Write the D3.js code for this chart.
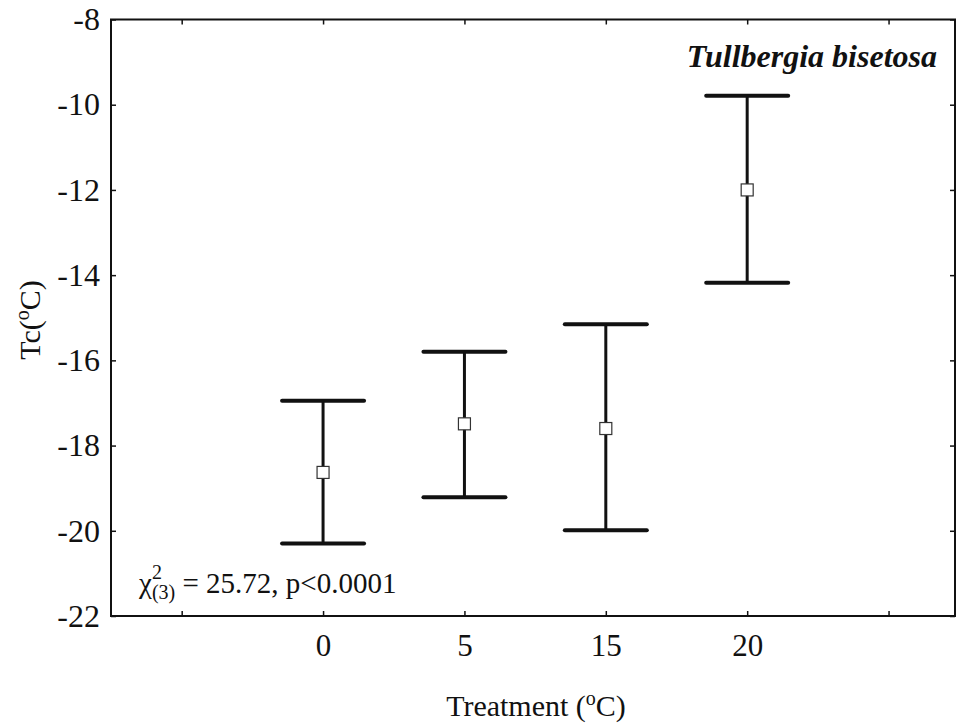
<!DOCTYPE html>
<html><head><meta charset="utf-8">
<script src="https://cdn.jsdelivr.net/npm/d3@7"></script>
<style>body{margin:0;background:#fff}svg{display:block}</style>
</head><body>
<script>
const categories = ["0", "5", "15", "20"];
const means = [-18.63, -17.49, -17.6, -12.0];
const upper = [-16.95, -15.8, -15.15, -9.79];
const lower = [-20.3, -19.21, -19.99, -14.18];
const yTicks = [-22, -20, -18, -16, -14, -12, -10, -8];
const xTickIdx = [-1, 0, 1, 2, 3, 4];

const W = 959, H = 728;
const m = {left: 111, top: 19.5, right: 4, bottom: 112};
const iw = W - m.left - m.right, ih = H - m.top - m.bottom;
const font = "'Liberation Serif', 'Times New Roman', serif";

const svg = d3.select("body").append("svg").attr("width", W).attr("height", H)
  .style("font-family", font);
const g = svg.append("g").attr("transform", `translate(${m.left},${m.top})`);

const x = d3.scaleLinear().domain([-1.5, 4.47]).range([0, iw]);
const y = d3.scaleLinear().domain([-22, -8]).range([ih, 0]);

// frame
g.append("rect").attr("width", iw).attr("height", ih).attr("fill", "none")
  .attr("stroke", "#111").attr("stroke-width", 2);

const fmt = d => String(d);
const yAx = g.append("g").call(d3.axisLeft(y).tickValues(yTicks).tickSize(-5).tickPadding(11).tickFormat(fmt));
yAx.attr("font-size", null).attr("font-family", null);
yAx.select(".domain").remove();
yAx.selectAll("text").style("font-size", "32px").attr("fill", "#111").style("font-family", font);
yAx.selectAll("line").attr("stroke", "#111").attr("stroke-width", 1.5);

const yAxR = g.append("g").attr("transform", `translate(${iw},0)`)
  .call(d3.axisRight(y).tickValues(yTicks).tickSize(-5).tickFormat(""));
yAxR.select(".domain").remove();
yAxR.selectAll("line").attr("stroke", "#111").attr("stroke-width", 1.5);

const xAx = g.append("g").attr("transform", `translate(0,${ih})`)
  .call(d3.axisBottom(x).tickValues(xTickIdx).tickSize(-5).tickPadding(18)
    .tickFormat(i => categories[i] !== undefined ? categories[i] : ""));
xAx.attr("font-size", null).attr("font-family", null);
xAx.select(".domain").remove();
xAx.selectAll("text").style("font-size", "31px").attr("fill", "#111").style("font-family", font);
xAx.selectAll("line").attr("stroke", "#111").attr("stroke-width", 1.5);

const xAxT = g.append("g").call(d3.axisTop(x).tickValues(xTickIdx).tickSize(-5).tickFormat(""));
xAxT.select(".domain").remove();
xAxT.selectAll("line").attr("stroke", "#111").attr("stroke-width", 1.5);

// error bars
const capHalf = 41;
const bars = g.selectAll(".eb").data(categories.map((c, i) => ({i, m: means[i], u: upper[i], l: lower[i]})))
  .join("g").attr("class", "eb");
bars.append("line").attr("x1", d => x(d.i)).attr("x2", d => x(d.i))
  .attr("y1", d => y(d.u)).attr("y2", d => y(d.l)).attr("stroke", "#111").attr("stroke-width", 3);
bars.append("line").attr("x1", d => x(d.i) - capHalf).attr("x2", d => x(d.i) + capHalf)
  .attr("y1", d => y(d.u)).attr("y2", d => y(d.u)).attr("stroke", "#111").attr("stroke-width", 4).attr("stroke-linecap", "round");
bars.append("line").attr("x1", d => x(d.i) - capHalf).attr("x2", d => x(d.i) + capHalf)
  .attr("y1", d => y(d.l)).attr("y2", d => y(d.l)).attr("stroke", "#111").attr("stroke-width", 4).attr("stroke-linecap", "round");
bars.append("rect").attr("x", d => x(d.i) - 6).attr("y", d => y(d.m) - 6)
  .attr("width", 12).attr("height", 12).attr("fill", "#fff").attr("stroke", "#333").attr("stroke-width", 1.2);

// species label
svg.append("text").attr("x", 937).attr("y", 67).attr("text-anchor", "end")
  .style("font-size", "32px").attr("font-weight", "bold").attr("font-style", "italic")
  .attr("fill", "#111").text("Tullbergia bisetosa");

// chi-square text
const chi = svg.append("text").attr("x", 139).attr("y", 593).style("font-size", "29px").attr("fill", "#111");
chi.append("tspan").text("χ");
chi.append("tspan").attr("dy", -14).style("font-size", "20px").text("2");
chi.append("tspan").attr("dy", 20).attr("dx", -10).style("font-size", "20px").text("(3)");
chi.append("tspan").attr("dy", -6).text(" = 25.72,  p<0.0001");

// y title
const yt = svg.append("text").attr("transform", "translate(40,320) rotate(-90)")
  .attr("text-anchor", "middle").style("font-size", "30px").attr("fill", "#111");
yt.append("tspan").text("Tc(");
yt.append("tspan").attr("dy", -11).style("font-size", "20px").text("o");
yt.append("tspan").attr("dy", 11).text("C)");

// x title
const xt = svg.append("text").attr("x", 536).attr("y", 716).attr("text-anchor", "middle")
  .style("font-size", "30px").attr("fill", "#111");
xt.append("tspan").text("Treatment (");
xt.append("tspan").attr("dy", -11).style("font-size", "20px").text("o");
xt.append("tspan").attr("dy", 11).text("C)");
</script>
</body></html>
